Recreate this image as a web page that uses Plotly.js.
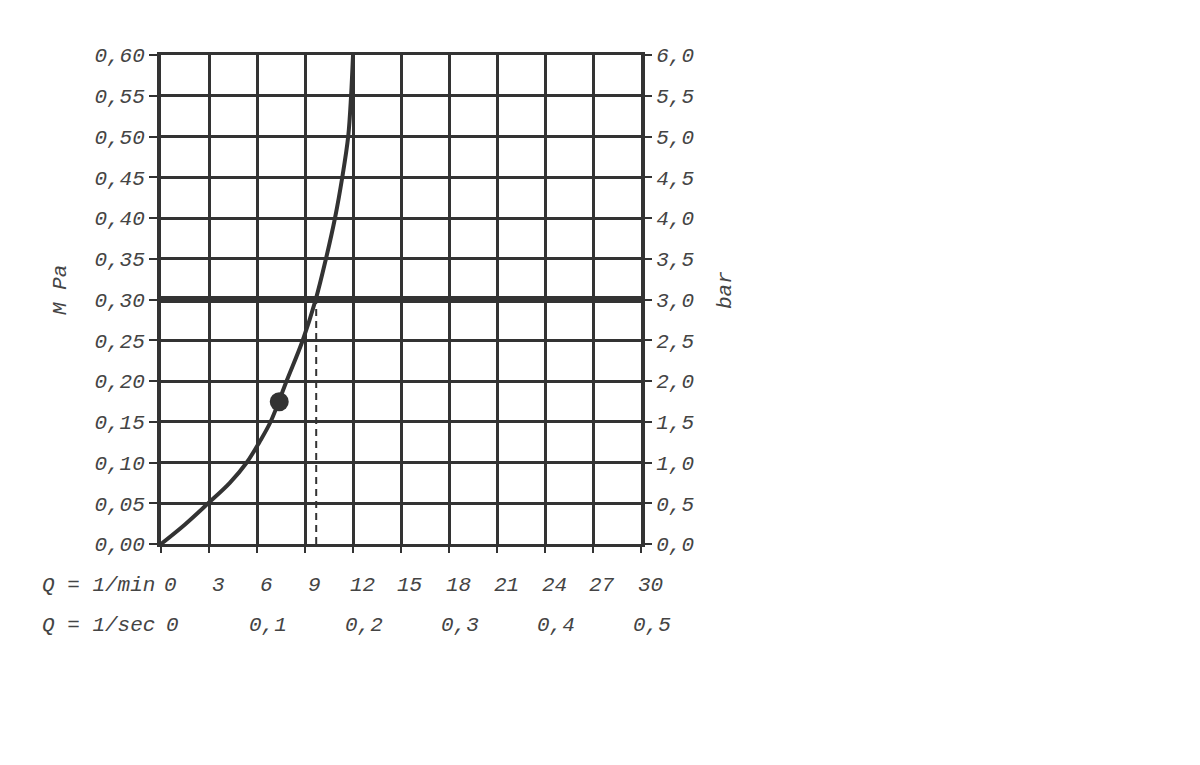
<!DOCTYPE html>
<html><head><meta charset="utf-8">
<script src="https://cdn.plot.ly/plotly-3.0.1.min.js"></script>
<style>html,body{margin:0;padding:0;background:#fff;}#chart{width:1200px;height:765px;}</style>
</head><body><div id="chart"></div>
<script>
// Flow (l/min) vs pressure (MPa) curve
const flowLpm     = [0, 1.5, 2.95, 4.3, 5.36, 6.15, 6.85, 7.85, 8.86, 9.67, 10.31, 10.875, 11.33, 11.7, 11.88, 12.0];
const pressureMPa = [0, 0.024, 0.05, 0.075, 0.10, 0.125, 0.15, 0.20, 0.25, 0.30, 0.35, 0.40, 0.45, 0.50, 0.55, 0.60];
const pointFlow = [7.39];
const pointPressure = [0.1746];
const refPressure = 0.30;      // horizontal reference line
const refFlow = 9.7;           // dashed vertical at intersection
const lpmTicks = [0, 3, 6, 9, 12, 15, 18, 21, 24, 27, 30];
const lpsTicks = [0, 0.1, 0.2, 0.3, 0.4, 0.5];
const lpsLabels = ['0', '0,1', '0,2', '0,3', '0,4', '0,5'];
const row1Label = 'Q = 1/min';
const row2Label = 'Q = 1/sec';

const ink = '#333';
const txt = '#444';
const fnt = {family: 'Liberation Mono, DejaVu Sans Mono, monospace', size: 21, color: txt, style: 'italic'};

const traces = [
  {x: [0, 30], y: [refPressure, refPressure], mode: 'lines', line: {color: ink, width: 7}, hoverinfo: 'skip'},
  {x: [refFlow, refFlow], y: [0, refPressure], mode: 'lines', line: {color: ink, width: 2, dash: '7px,5px'}, hoverinfo: 'skip'},
  {x: flowLpm, y: pressureMPa, mode: 'lines', line: {color: ink, width: 4, shape: 'spline', smoothing: 1}},
  {x: pointFlow, y: pointPressure, mode: 'markers', marker: {color: ink, size: 19}},
  {x: [0, 30], y: [0, 6], yaxis: 'y2', mode: 'none', hoverinfo: 'skip'}
];

const annotations = [];
lpmTicks.forEach(v => annotations.push({x: v, y: 0, xref: 'x', yref: 'paper', text: String(v), showarrow: false,
  xanchor: 'center', yanchor: 'middle', yshift: -41, xshift: 9, font: fnt}));
lpsTicks.forEach((v, i) => annotations.push({x: v * 60, y: 0, xref: 'x', yref: 'paper', text: lpsLabels[i], showarrow: false,
  xanchor: 'center', yanchor: 'middle', yshift: -81, xshift: 11, font: fnt}));
annotations.push({x: 40/1200, y: 0, xref: 'paper', yref: 'paper', text: row1Label, showarrow: false, xanchor: 'left', yanchor: 'middle', yshift: -41, font: fnt});
annotations.push({x: 40/1200, y: 0, xref: 'paper', yref: 'paper', text: row2Label, showarrow: false, xanchor: 'left', yanchor: 'middle', yshift: -81, font: fnt});
annotations.push({x: 60/1200, y: 0.526, xref: 'paper', yref: 'paper', text: 'M Pa', showarrow: false, textangle: -90, xanchor: 'center', yanchor: 'middle', font: fnt});
annotations.push({x: 725/1200, y: 0.526, xref: 'paper', yref: 'paper', text: 'bar', showarrow: false, textangle: -90, xanchor: 'center', yanchor: 'middle', font: fnt});

const layout = {
  width: 1200, height: 765,
  margin: {l: 161, r: 559, t: 55, b: 221, pad: 0},
  paper_bgcolor: '#fff', plot_bgcolor: '#fff',
  separators: ',.',
  showlegend: false,
  xaxis: {range: [0, 30], tickvals: lpmTicks, showticklabels: false, ticks: 'outside', ticklen: 6, tickwidth: 2, tickcolor: ink,
    showgrid: true, gridcolor: ink, gridwidth: 3, zeroline: false, showline: true, linecolor: ink, linewidth: 3, mirror: true, fixedrange: true},
  yaxis: {range: [0, 0.6], dtick: 0.05, tick0: 0, tickformat: '.2f', ticks: 'outside', ticklen: 8, tickwidth: 2, tickcolor: ink,
    tickfont: fnt, showgrid: true, gridcolor: ink, gridwidth: 3, zeroline: false, showline: true, linecolor: ink, linewidth: 4, mirror: true, fixedrange: true},
  yaxis2: {range: [0, 6], dtick: 0.5, tick0: 0, tickformat: '.1f', overlaying: 'y', side: 'right', ticks: 'outside', ticklen: 10, tickwidth: 2,
    tickcolor: ink, tickfont: fnt, showgrid: false, zeroline: false, showline: false, fixedrange: true},
  annotations: annotations
};
// convert figure-pixel annotation x to paper coords of the plot area
const plotL = 161, plotW = 480, plotT = 55, plotH = 489;
annotations.forEach(a => {
  if (a.xref === 'paper') {
    const px = a.x * 1200;
    a.x = (px - plotL) / plotW;
  }
  if (a.yref === 'paper' && a.textangle === -90) {
    a.y = (plotT + plotH - 290) / plotH;
  }
});
Plotly.newPlot('chart', traces, layout, {displayModeBar: false, staticPlot: true});
</script></body></html>
